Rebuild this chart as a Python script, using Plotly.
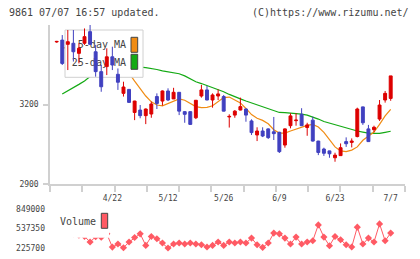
import plotly.graph_objects as go

# ---------------- data ----------------
opens  = [3436, 3443, 3427, 3431, 3393, 3431, 3475, 3399, 3324, 3343,
          3380, 3314, 3242, 3257, 3170, 3179, 3158, 3164, 3230, 3213,
          3251, 3221, 3246, 3173, 3173, 3150, 3232, 3255, 3217, 3232,
          3230, 3153, 3160, 3179, 3183, 3138, 3085, 3100, 3108, 3097,
          3095, 3047, 3120, 3139, 3163, 3113, 3141, 3062, 3032, 3025,
          2999, 3007, 3060, 3057, 3079, 3191, 3108, 3105, 3145, 3217, 3223]
highs  = [3440, 3462, 3481, 3481, 3431, 3487, 3515, 3425, 3349, 3412,
          3418, 3336, 3286, 3258, 3214, 3198, 3185, 3211, 3242, 3253,
          3261, 3263, 3247, 3175, 3174, 3217, 3274, 3270, 3242, 3257,
          3236, 3163, 3179, 3226, 3185, 3144, 3114, 3114, 3110, 3153,
          3097, 3110, 3167, 3167, 3186, 3131, 3154, 3063, 3037, 3026,
          3018, 3053, 3076, 3072, 3188, 3192, 3123, 3120, 3217, 3251, 3308]
lows   = [3433, 3349, 3330, 3362, 3355, 3425, 3425, 3305, 3248, 3311,
          3330, 3255, 3230, 3207, 3141, 3148, 3126, 3150, 3183, 3196,
          3213, 3221, 3160, 3131, 3123, 3145, 3226, 3216, 3188, 3217,
          3174, 3113, 3150, 3178, 3135, 3085, 3062, 3077, 3070, 3066,
          3017, 3037, 3110, 3120, 3120, 3082, 3060, 3009, 3006, 2999,
          2984, 3006, 3040, 3038, 3076, 3123, 3059, 3095, 3138, 3207, 3214]
closes = [3438, 3355, 3437, 3399, 3412, 3456, 3427, 3324, 3267, 3380,
          3349, 3284, 3266, 3208, 3213, 3158, 3183, 3202, 3204, 3251,
          3217, 3246, 3175, 3163, 3125, 3216, 3255, 3217, 3236, 3240,
          3175, 3155, 3175, 3192, 3160, 3094, 3100, 3081, 3075, 3090,
          3022, 3108, 3157, 3141, 3120, 3123, 3062, 3019, 3016, 3014,
          3009, 3037, 3052, 3062, 3183, 3131, 3060, 3114, 3198, 3242, 3308]
ma5 = [None, 3413, 3415, 3418, 3410, 3412, 3420, 3405, 3380, 3370,
       3352, 3330, 3320, 3318, 3288, 3260, 3232, 3210, 3198, 3195,
       3204, 3214, 3221, 3216, 3205, 3192, 3188, 3189, 3195, 3210,
       3226, 3228, 3218, 3206, 3185, 3162, 3148, 3140, 3127, 3105,
       3092, 3092, 3100, 3107, 3114, 3121, 3125, 3115, 3095, 3068,
       3040, 3025, 3022, 3028, 3040, 3065, 3081, 3096, 3125, 3157, 3182]
ma25 = [None, 3240, 3251, 3263, 3276, 3289, 3306, 3313, 3320, 3325,
        3329, 3333, 3336, 3338, 3340, 3341, 3339, 3336, 3332, 3327,
        3324, 3320, 3316, 3308, 3296, 3286, 3279, 3272, 3264, 3257,
        3248, 3238, 3228, 3221, 3213, 3206, 3198, 3190, 3182, 3175,
        3170, 3169, 3168, 3167, 3164, 3160, 3153, 3145, 3136, 3130,
        3124, 3118, 3111, 3104, 3100, 3096, 3092, 3091, 3091, 3095, 3099]
volume = [500000, 540000, 480000, 450000, 430000, 412000, 321000, 405000, 397000, 452000,
          240000, 289000, 230000, 321000, 394000, 452000, 267000, 410000, 373000, 305000,
          225700, 289000, 305000, 289000, 305000, 289000, 278000, 242000, 267000, 321000,
          267000, 321000, 305000, 321000, 305000, 384000, 278000, 235000, 305000, 464000,
          452000, 384000, 289000, 400000, 289000, 321000, 341000, 595000, 400000, 262000,
          410000, 357000, 278000, 242000, 559000, 289000, 384000, 321000, 611000, 341000, 464000]
tick_idx = [10, 20, 30, 40, 50, 60]
tick_labels = ["4/22", "5/12", "5/26", "6/9", "6/23", "7/7"]
price_ticks = [2900, 3200]
vol_ticks = [225700, 537350, 849000]

x = list(range(len(closes)))

# ---------------- geometry / style ----------------
W, H = 420, 259
L, R, T, B = 50, 405, 25, 248
P_TOP, P_BOT = 25, 184
V_TOP, V_BOT = 209, 248
XR = [-1.2, 62.57]
PR = [2900, 3500]
VR = [225700, 849000]
FONT = "DejaVu Sans Mono"
GREY = "#d0d0d0"
TXT = "#444444"
RED = "#dd0000"
BLUE = "#4040c0"
ORANGE = "#f08c14"
GREEN = "#14aa14"
VOLC = "#ff5a64"


def px_x(px):
    return XR[0] + (px - L) / (R - L) * (XR[1] - XR[0])


def px_p(py):
    return PR[1] - (py - P_TOP) / (P_BOT - P_TOP) * (PR[1] - PR[0])


def px_v(py):
    return VR[1] - (py - V_TOP) / (V_BOT - V_TOP) * (VR[1] - VR[0])


def paper_x(px):
    return (px - L) / (R - L)


def paper_y(py):
    return (B - py) / (B - T)


fig = go.Figure()

# moving averages (main price subplot)
fig.add_trace(go.Scatter(x=x, y=ma25, mode="lines", line=dict(color=GREEN, width=1.2),
                         xaxis="x", yaxis="y", showlegend=False, hoverinfo="skip"))
fig.add_trace(go.Scatter(x=x, y=ma5, mode="lines", line=dict(color=ORANGE, width=1.2),
                         xaxis="x", yaxis="y", showlegend=False, hoverinfo="skip"))

# legend panel (covers MA lines, under candles)
bx0, bx1, by0, by1 = 65, 143, 30, 77.3
fig.add_trace(go.Scatter(
    x=[px_x(bx0), px_x(bx1), px_x(bx1), px_x(bx0), px_x(bx0)],
    y=[px_p(by0), px_p(by0), px_p(by1), px_p(by1), px_p(by0)],
    mode="lines", fill="toself", fillcolor="white",
    line=dict(color=GREY, width=1), xaxis="x", yaxis="y",
    showlegend=False, hoverinfo="skip"))
fig.add_trace(go.Scatter(
    x=[px_x(126), px_x(126)], y=[px_p(45.7), px_p(63.3)],
    mode="text", text=["5-day MA", "25-day MA"], textposition="middle left",
    textfont=dict(family=FONT, size=10, color=TXT),
    xaxis="x", yaxis="y", showlegend=False, hoverinfo="skip"))

# candles on an overlaid axis so they draw above the legend panel
fig.add_trace(go.Candlestick(
    x=x, open=opens, high=highs, low=lows, close=closes,
    increasing=dict(line=dict(color=RED, width=1), fillcolor=RED),
    decreasing=dict(line=dict(color=BLUE, width=1), fillcolor=BLUE),
    whiskerwidth=0, xaxis="x", yaxis="y3", showlegend=False, hoverinfo="skip"))

# volume
fig.add_trace(go.Scatter(
    x=x, y=volume, mode="lines+markers",
    line=dict(color=VOLC, width=1),
    marker=dict(symbol="diamond", size=5.5, color=VOLC),
    cliponaxis=False, xaxis="x2", yaxis="y2", showlegend=False, hoverinfo="skip"))
fig.add_trace(go.Scatter(
    x=[px_x(51), px_x(109), px_x(109), px_x(51), px_x(51)],
    y=[px_v(209), px_v(209), px_v(237.7), px_v(237.7), px_v(209)],
    mode="lines", fill="toself", fillcolor="white", line=dict(width=0),
    xaxis="x2", yaxis="y2", showlegend=False, hoverinfo="skip"))
fig.add_trace(go.Scatter(
    x=[px_x(96)], y=[px_v(222)], mode="text", text=["Volume"],
    textposition="middle left", textfont=dict(family=FONT, size=10, color=TXT),
    xaxis="x2", yaxis="y2", showlegend=False, hoverinfo="skip"))

shapes = []
for (y0, y1, col) in [(37.3, 52.3, ORANGE), (54.3, 69.3, GREEN)]:
    shapes.append(dict(type="rect", xref="paper", yref="paper",
                       x0=paper_x(131), x1=paper_x(137.7), y0=paper_y(y1), y1=paper_y(y0),
                       fillcolor=col, line=dict(color="#444444", width=1), layer="above"))
shapes.append(dict(type="rect", xref="paper", yref="paper",
                   x0=paper_x(101.3), x1=paper_x(107.7), y0=paper_y(228.3), y1=paper_y(213.3),
                   fillcolor=VOLC, line=dict(color="#444444", width=1), layer="above"))

minor_vals = [XR[0] + k * (XR[1] - XR[0]) / 11 for k in range(12)]

fig.update_layout(
    width=W, height=H,
    margin=dict(l=L, r=W - R, t=T, b=H - B, pad=0, autoexpand=False),
    paper_bgcolor="white", plot_bgcolor="white",
    showlegend=False, boxgap=0.25,
    font=dict(family=FONT, size=8, color=TXT),
    xaxis=dict(domain=[0, 1], range=XR, anchor="y", showline=True, linecolor=GREY,
               linewidth=1.5, showgrid=False, zeroline=False, automargin=False,
               tickmode="array", tickvals=tick_idx, ticktext=tick_labels,
               ticks="outside", ticklen=6, tickcolor="rgba(0,0,0,0)",
               tickfont=dict(family=FONT, size=8, color=TXT),
               rangeslider=dict(visible=False),
               minor=dict(tickmode="array", tickvals=minor_vals, ticks="outside",
                          ticklen=6, tickcolor=GREY, tickwidth=1.5, showgrid=False)),
    yaxis=dict(domain=[paper_y(P_BOT), 1], range=PR, anchor="x", showline=True,
               linecolor=GREY, linewidth=1.5, showgrid=False, zeroline=False,
               automargin=False,
               tickmode="array", tickvals=price_ticks, ticks="outside", ticklen=5,
               tickcolor=GREY, tickwidth=1.5, ticklabelstandoff=3,
               tickfont=dict(family=FONT, size=8, color=TXT)),
    yaxis3=dict(overlaying="y", anchor="x", range=PR, visible=False,
                showgrid=False, zeroline=False, automargin=False),
    xaxis2=dict(domain=[0, 1], range=XR, anchor="y2", matches="x", visible=False,
                showgrid=False, zeroline=False, automargin=False),
    yaxis2=dict(domain=[0, paper_y(V_TOP)], range=VR, anchor="x2", showline=False,
                showgrid=False, zeroline=False, automargin=False,
                tickmode="array", tickvals=vol_ticks,
                ticktext=[str(v) for v in vol_ticks], ticks="", ticklabelstandoff=4,
                tickfont=dict(family=FONT, size=8, color=TXT)),
    shapes=shapes,
    annotations=[
        dict(text="9861 07/07 16:57 updated.", xref="paper", yref="paper",
             x=paper_x(7), y=paper_y(12), xanchor="left", yanchor="middle",
             showarrow=False, font=dict(family=FONT, size=10, color=TXT)),
        dict(text="(C)https://www.rizumu.net/", xref="paper", yref="paper",
             x=paper_x(411), y=paper_y(12), xanchor="right", yanchor="middle",
             showarrow=False, font=dict(family=FONT, size=10, color=TXT)),
    ],
)

fig.write_html("out.html")
